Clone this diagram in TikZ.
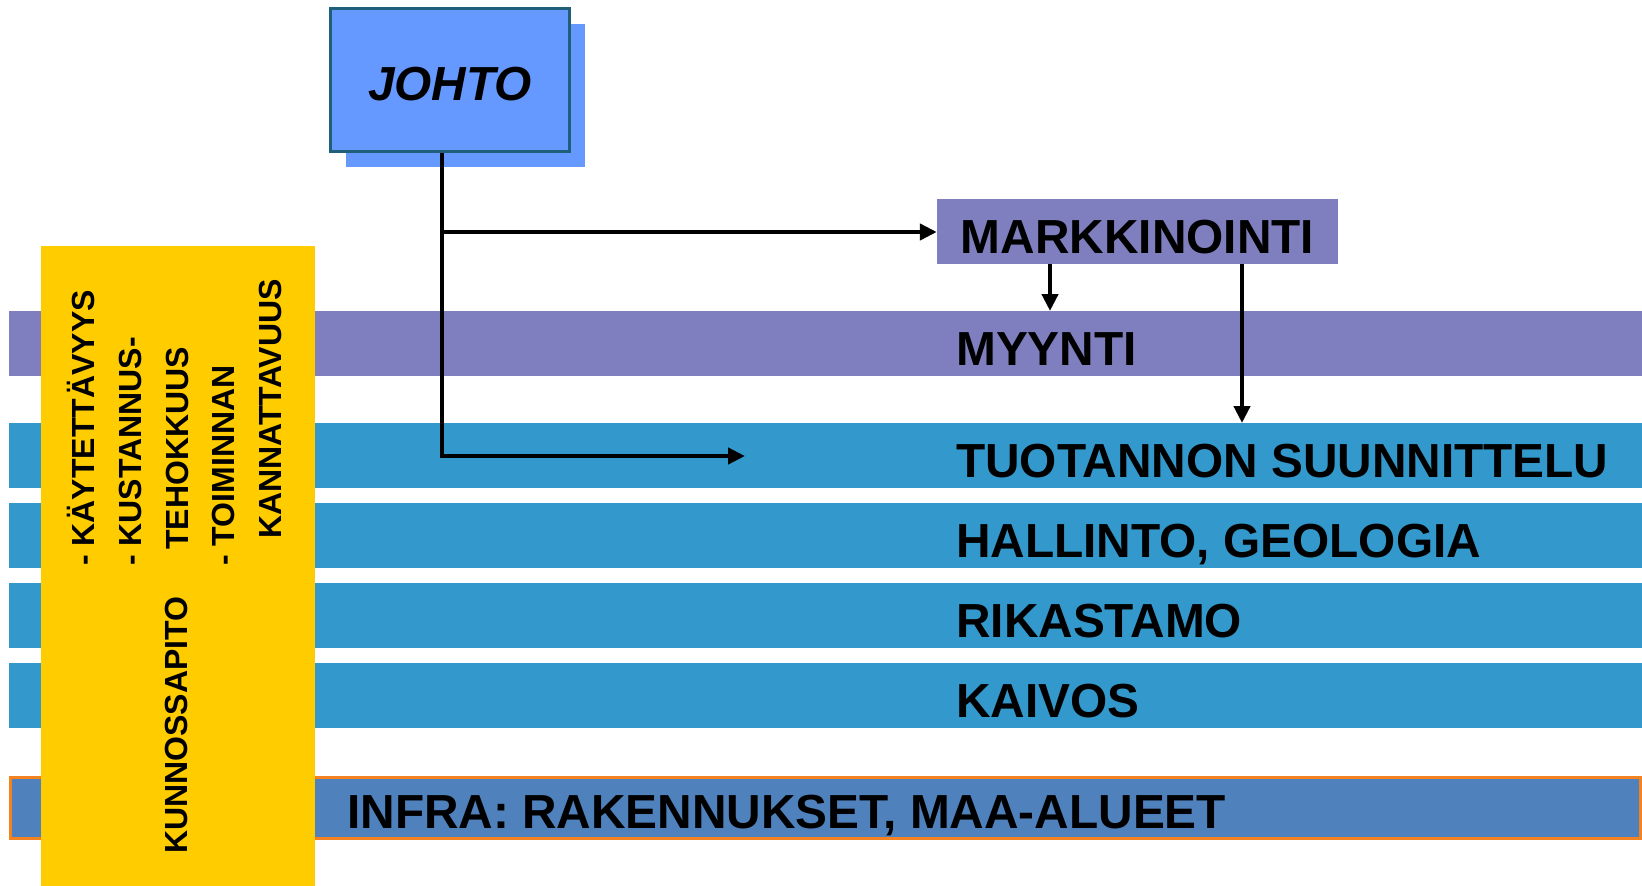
\documentclass[tikz,border=0pt]{standalone}
\usepackage{fontspec}
\setmainfont{Liberation Sans}
\usetikzlibrary{arrows.meta,shadows}
\definecolor{purp}{HTML}{7F7FC0}
\definecolor{bandblue}{HTML}{3399CC}
\definecolor{infrablue}{HTML}{4F81BD}
\definecolor{infraorange}{HTML}{F58220}
\definecolor{yell}{HTML}{FFCC00}
\definecolor{johtob}{HTML}{6699FF}
\definecolor{johtoborder}{HTML}{215E79}
\begin{document}
\begin{tikzpicture}[x=1pt,y=-1pt,
  band/.style={draw=none, inner sep=0pt, minimum width=1633pt, minimum height=65pt, anchor=north west},
  bigtxt/.style={inner sep=0pt, anchor=base west, font=\fontsize{47.8}{56}\selectfont\bfseries},
  vtxt/.style={inner sep=0pt, anchor=base west, rotate=90, font=\fontsize{32}{38}\selectfont\bfseries},
  arr/.style={line width=4.6pt, -{Triangle[length=17pt,width=16pt]}}]
\useasboundingbox (0,0) rectangle (1642,886);
% bands
\node[band, fill=purp] (myyntib) at (9,311) {};
\node[band, fill=bandblue] (tuotb) at (9,423) {};
\node[band, fill=bandblue] (hallb) at (9,503) {};
\node[band, fill=bandblue] (rikb) at (9,583) {};
\node[band, fill=bandblue] (kaivb) at (9,663) {};
\node[draw=infraorange, line width=3pt, fill=infrablue, inner sep=0pt,
      minimum width=1630pt, minimum height=61pt] (infrab) at (825.5,808) {};
% yellow box
\node[fill=yell, inner sep=0pt, minimum width=274pt, minimum height=640pt] (kunno) at (178,566) {};
\node[vtxt] (v1) at (94,566) {- KÄYTETTÄVYYS};
\node[vtxt] (v2) at (141,566) {- KUSTANNUS-};
\node[vtxt] (v3) at (188,550) {TEHOKKUUS};
\node[vtxt] (v4) at (234,566) {- TOIMINNAN};
\node[vtxt] (v5) at (281,539) {KANNATTAVUUS};
\node[vtxt] (v6) at (187,854) {KUNNOSSAPITO};
% band texts
\node[bigtxt] (tmyynti) at (956,365) {MYYNTI};
\node[bigtxt] (ttuot) at (956,477) {TUOTANNON SUUNNITTELU};
\node[bigtxt] (thall) at (956,557) {HALLINTO, GEOLOGIA};
\node[bigtxt] (trik) at (956,637) {RIKASTAMO};
\node[bigtxt] (tkaiv) at (956,717) {KAIVOS};
\node[bigtxt] (tinfra) at (347,828) {INFRA: RAKENNUKSET, MAA-ALUEET};
% JOHTO
\node[draw=johtoborder, line width=3pt, fill=johtob, minimum width=239pt, minimum height=143pt,
      text height=40pt, text depth=0pt, inner sep=0pt,
      font=\fontsize{47.8}{56}\selectfont\bfseries\itshape,
      drop shadow={shadow xshift=15pt, shadow yshift=-15pt, fill=johtob, draw=none, opacity=1}]
      (johto) at (450,80) {JOHTO};
% MARKKINOINTI
\node[fill=purp, minimum width=401pt, minimum height=65pt, inner sep=0pt,
      text height=43pt, text depth=0pt,
      font=\fontsize{47.8}{56}\selectfont\bfseries] (mark) at (1137.5,231.5) {MARKKINOINTI};
% connectors
\coordinate (branch) at (442,232);
\coordinate (tip) at (745,456);
\draw[arr] ([xshift=-8pt]johto.south) |- (tip);
\draw[arr] (branch) -- (mark.west |- branch);
\draw[arr] (mark.south -| 1050,0) -- (myyntib.north -| 1050,0);
\draw[arr] (mark.south -| 1242,0) -- (tuotb.north -| 1242,0);
\end{tikzpicture}
\end{document}
